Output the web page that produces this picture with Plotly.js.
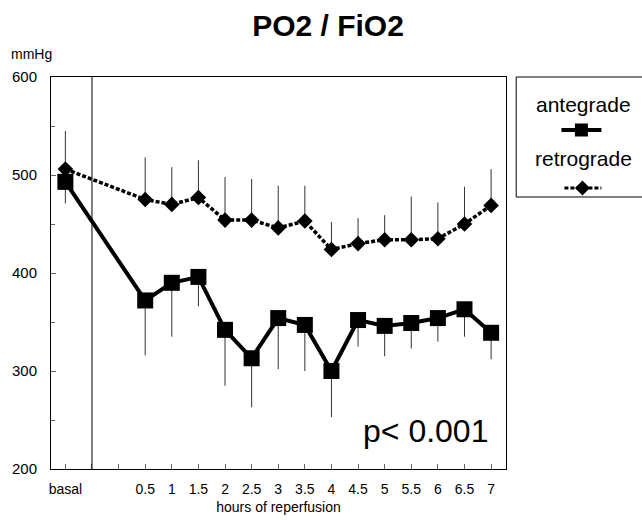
<!DOCTYPE html>
<html><head><meta charset="utf-8">
<script src="https://cdn.plot.ly/plotly-3.0.1.min.js"></script>
<style>html,body{margin:0;padding:0;background:#fff}</style>
</head><body><div id="chart" style="width:642px;height:520px"></div>
<script>
// ---- data ----
const hours = [-1, 0.5, 1, 1.5, 2, 2.5, 3, 3.5, 4, 4.5, 5, 5.5, 6, 6.5, 7];
const tickLabels = ['basal', '0.5', '1', '1.5', '2', '2.5', '3', '3.5', '4', '4.5', '5', '5.5', '6', '6.5', '7'];
const antegrade = [493, 372, 390, 396, 342, 313, 354, 347, 300, 352, 346, 349, 354, 363, 339];
const antegradeSD = [22, 56, 55, 30, 57, 50, 52, 47, 47, 27, 31, 26, 24, 28, 27];
const retrograde = [506, 475, 470, 477, 454, 454, 446, 453, 424, 430, 434, 434, 435, 450, 469];
const retrogradeSD = [39, 43, 38, 38, 44, 42, 43, 36, 28, 26, 25, 44, 37, 38, 37];
const yTicks = [200, 300, 400, 500, 600];

// ---- layout geometry ----
const W = 642, H = 520;
const L = 51, R = 506.5, T = 77, B = 469;
const px = v => (v - L) / (R - L);
const py = v => (B - v) / (B - T);
const FONT = 'Liberation Sans, Arial, Helvetica, sans-serif';
const zeros = antegrade.map(() => 0);

const traces = [
  {
    x: hours, y: retrograde, name: 'retrograde', type: 'scatter', mode: 'lines+markers',
    line: {color: '#000', width: 3.5, dash: '4px,2px'},
    marker: {symbol: 'diamond', size: 12, color: '#000'},
    error_y: {type: 'data', symmetric: false, array: retrogradeSD, arrayminus: zeros,
              width: 0, thickness: 1, color: '#333'}
  },
  {
    x: hours, y: antegrade, name: 'antegrade', type: 'scatter', mode: 'lines+markers',
    line: {color: '#000', width: 4},
    marker: {symbol: 'square', size: 16, color: '#000'},
    error_y: {type: 'data', symmetric: false, array: zeros, arrayminus: antegradeSD,
              width: 0, thickness: 1, color: '#333'}
  }
];

// legend drawn by hand (text above sample)
const shapes = [
  {type: 'line', xref: 'x', yref: 'paper', x0: -0.5, x1: -0.5, y0: 0, y1: 1,
   line: {color: '#000', width: 1}},
  {type: 'rect', xref: 'paper', yref: 'paper', x0: px(516.7), x1: px(720), y0: py(197), y1: py(77),
   line: {color: '#000', width: 1}, fillcolor: 'rgba(0,0,0,0)'},
  {type: 'line', xref: 'paper', yref: 'paper', x0: px(562), x1: px(602), y0: py(130), y1: py(130),
   line: {color: '#000', width: 4}},
  {type: 'rect', xref: 'paper', yref: 'paper', x0: px(575.5), x1: px(588.5), y0: py(136.5), y1: py(123.5),
   line: {width: 0}, fillcolor: '#000'},
  {type: 'line', xref: 'paper', yref: 'paper', x0: px(565), x1: px(602), y0: py(188), y1: py(188),
   line: {color: '#000', width: 3, dash: '4px,2px'}},
  {type: 'path', xref: 'paper', yref: 'paper',
   path: `M ${px(575.5)},${py(188)} L ${px(583)},${py(180.5)} L ${px(590.5)},${py(188)} L ${px(583)},${py(195.5)} Z`,
   line: {width: 0}, fillcolor: '#000'}
];

const annotations = [
  {text: 'mmHg', xref: 'paper', yref: 'paper', x: px(31), y: py(54), xanchor: 'center', yanchor: 'middle',
   showarrow: false, font: {family: FONT, size: 14, color: '#000'}},
  {text: 'p< 0.001', xref: 'paper', yref: 'paper', x: px(490), y: py(431), xanchor: 'right', yanchor: 'middle',
   showarrow: false, font: {family: FONT, size: 32, color: '#000'}},
  {text: 'antegrade', xref: 'paper', yref: 'paper', x: px(584), y: py(105), xanchor: 'center', yanchor: 'middle',
   showarrow: false, font: {family: FONT, size: 21, color: '#000'}},
  {text: 'retrograde', xref: 'paper', yref: 'paper', x: px(584), y: py(158), xanchor: 'center', yanchor: 'middle',
   showarrow: false, font: {family: FONT, size: 21, color: '#000'}}
];

const layout = {
  width: W, height: H,
  margin: {l: L, r: W - R, t: T, b: H - B, pad: 0},
  paper_bgcolor: '#fff', plot_bgcolor: '#fff',
  showlegend: false,
  font: {family: FONT, color: '#000'},
  title: {text: '<b>PO2 / FiO2</b>', xref: 'container', yref: 'container', x: 328 / W, y: 1 - 25 / H,
          xanchor: 'center', yanchor: 'middle', font: {family: FONT, size: 30, color: '#000'}},
  xaxis: {
    range: [-1.27, 7.28], tickmode: 'array', tickvals: hours, ticktext: tickLabels,
    ticks: 'inside', ticklen: 5, tickcolor: '#666', tickwidth: 1,
    minor: {tickmode: 'linear', tick0: 0, dtick: 0.5, ticks: 'inside', ticklen: 5, tickcolor: '#666'},
    showgrid: false, zeroline: false, showline: true, linecolor: '#000', linewidth: 1, mirror: true,
    tickfont: {family: FONT, size: 14, color: '#000'}, ticklabelstandoff: 7,
    title: {text: 'hours of reperfusion', font: {family: FONT, size: 14, color: '#000'}, standoff: 6}
  },
  yaxis: {
    range: [200, 600], tickmode: 'array', tickvals: yTicks,
    ticks: 'inside', ticklen: 5, tickcolor: '#666', tickwidth: 1,
    minor: {tickmode: 'linear', tick0: 200, dtick: 50, ticks: 'inside', ticklen: 4, tickcolor: '#666'},
    showgrid: false, zeroline: false, showline: true, linecolor: '#000', linewidth: 1, mirror: true,
    tickfont: {family: FONT, size: 15, color: '#000'}, ticklabelstandoff: 10
  },
  shapes: shapes,
  annotations: annotations
};

Plotly.newPlot('chart', traces, layout, {staticPlot: true, displayModeBar: false});
</script>
</body></html>
